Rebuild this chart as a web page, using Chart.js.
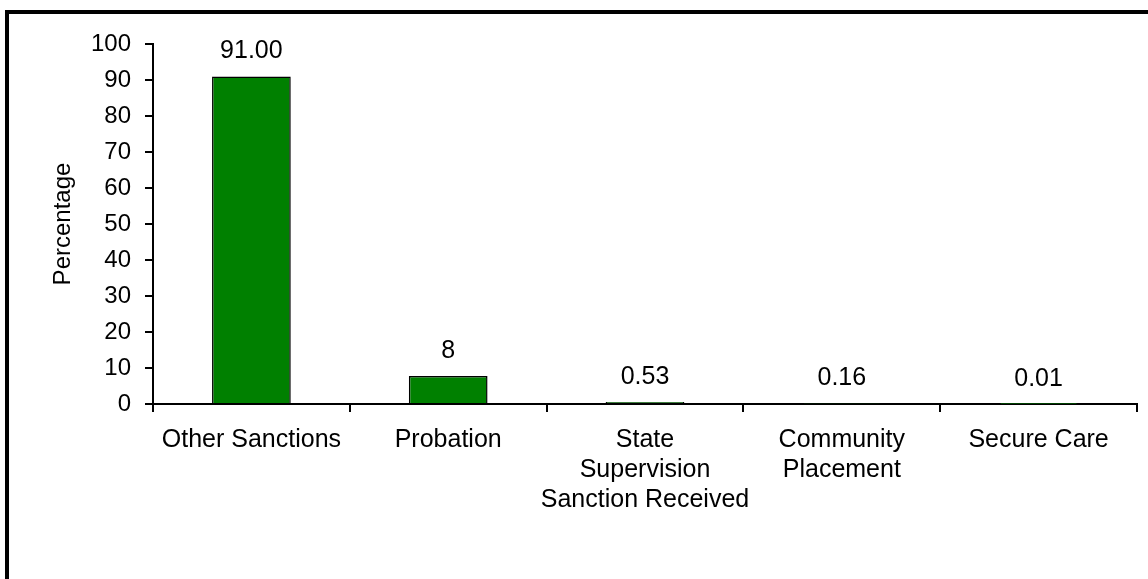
<!DOCTYPE html>
<html>
<head>
<meta charset="utf-8">
<script src="https://cdn.jsdelivr.net/npm/chart.js@4/dist/chart.umd.min.js"></script>
<style>
  html, body { margin: 0; padding: 0; background: #fff; overflow: hidden; }
  #frame {
    position: absolute; left: 5px; top: 10px; width: 1300px; height: 700px;
    border-top: 4px solid #000; border-left: 4px solid #000;
  }
  #wrap { position: absolute; left: 0; top: 0; width: 1148px; height: 579px; }
</style>
</head>
<body>
<div id="frame"></div>
<div id="wrap"><canvas id="sanctions" width="1148" height="579"></canvas></div>
<script>
const categories = ['Other Sanctions', 'Probation', ['State', 'Supervision'], ['Community', 'Placement'], 'Secure Care'];
const percentages = [91, 7.8, 0.53, 0.16, 0.01];
const valueLabels = ['91.00', '8', '0.53', '0.16', '0.01'];
const yTicks = [0, 10, 20, 30, 40, 50, 60, 70, 80, 90, 100];

const FONT = '"Liberation Sans", Arial, sans-serif';

// draws the value text above each bar
const barLabels = {
  id: 'barLabels',
  afterDatasetsDraw(chart) {
    const ctx = chart.ctx;
    const meta = chart.getDatasetMeta(0);
    ctx.save();
    ctx.font = '25px ' + FONT;
    ctx.fillStyle = '#000';
    ctx.textAlign = 'center';
    ctx.textBaseline = 'middle';
    meta.data.forEach((bar, i) => {
      ctx.fillText(valueLabels[i], bar.x, bar.y - 25);
    });
    ctx.restore();
  }
};

new Chart(document.getElementById('sanctions'), {
  type: 'bar',
  data: {
    labels: categories,
    datasets: [{
      data: percentages,
      backgroundColor: '#008000',
      borderColor: '#000',
      borderWidth: 1.5,
      barPercentage: 0.4,
      categoryPercentage: 1
    }]
  },
  options: {
    responsive: false,
    animation: false,
    layout: { padding: { top: 44, right: 11, left: 0, bottom: 0 } },
    plugins: {
      legend: { display: false },
      tooltip: { enabled: false }
    },
    scales: {
      x: {
        afterFit(scale) { scale.height = 175; },
        grid: { drawOnChartArea: false, color: '#000', lineWidth: 2, tickLength: 8 },
        border: { color: '#000', width: 2 },
        ticks: {
          color: '#000',
          padding: 13,
          maxRotation: 0,
          autoSkip: false,
          font: { family: FONT, size: 25, lineHeight: 1.2 }
        },
        title: {
          display: true,
          text: 'Sanction Received',
          color: '#000',
          padding: { top: 0, bottom: 64 },
          font: { family: FONT, size: 25, lineHeight: 1.2 }
        }
      },
      y: {
        min: 0,
        max: 100,
        afterFit(scale) { scale.width = 153; },
        afterBuildTicks(scale) { scale.ticks = yTicks.map(v => ({ value: v })); },
        grid: { drawOnChartArea: false, color: '#000', lineWidth: 2, tickLength: 8 },
        border: { color: '#000', width: 2 },
        ticks: {
          color: '#000',
          padding: 14,
          font: { family: FONT, size: 24 }
        },
        title: {
          display: true,
          text: 'Percentage',
          color: '#000',
          padding: { top: 49, bottom: 0 },
          font: { family: FONT, size: 24, lineHeight: 1.2 }
        }
      }
    }
  },
  plugins: [barLabels]
});
</script>
</body>
</html>
